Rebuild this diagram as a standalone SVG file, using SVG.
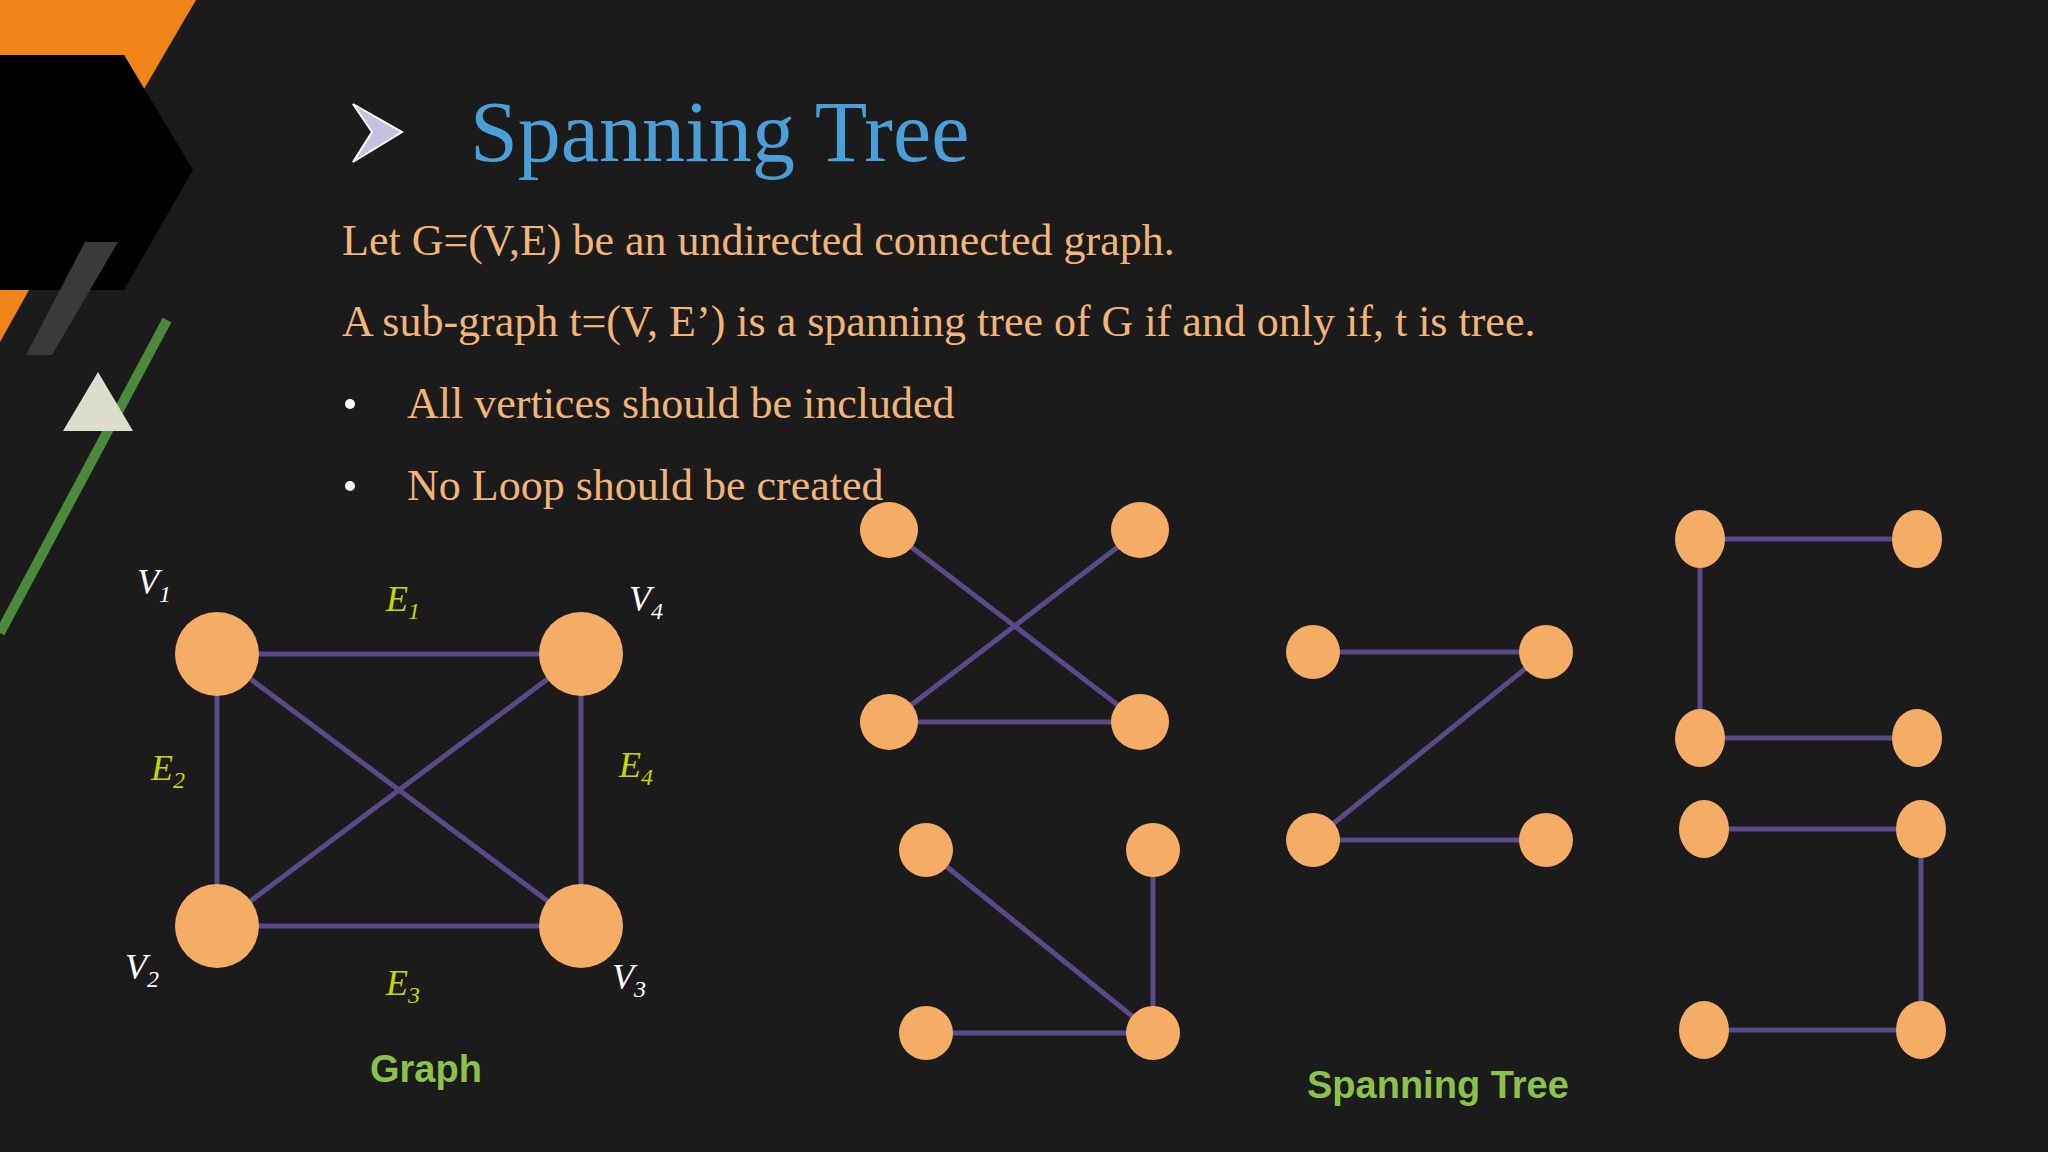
<svg xmlns="http://www.w3.org/2000/svg" width="2048" height="1152" viewBox="0 0 2048 1152">
<style>
.e{stroke:#5b4a8a;stroke-width:5;fill:none}
.n{fill:#f5ad66}
.t{font-family:"Liberation Serif",serif;fill:#f2b477;font-size:44px}
.v{font-family:"Liberation Serif",serif;font-style:italic;fill:#fff;font-size:36px}
.l{font-family:"Liberation Serif",serif;font-style:italic;fill:#c8d400;font-size:36px}
.s{font-size:24px}
.g{font-family:"Liberation Sans",sans-serif;font-weight:bold;fill:#8bc34a;font-size:38px}
</style>
<rect width="2048" height="1152" fill="#1b1b1b"/>
<g id="decor">
<polygon points="0,0 196,0 144,89 124,55 0,55" fill="#f08418"/>
<polygon points="0,55 124,55 193,170 124,290 0,290" fill="#000"/>
<polygon points="0,290 29,290 0,342" fill="#f08418"/>
<polygon points="85,242 118,242 52,355 26,355" fill="#3a3a3a"/>
<line x1="167" y1="320" x2="0" y2="633" stroke="#4a8a3a" stroke-width="10"/>
<polygon points="98,372 63,431 133,431" fill="#ddddcc"/>
</g>
<g id="title">
<polygon points="353,104 402,132 353,162 372,132" fill="#c8c0e0" stroke="#fff" stroke-width="2"/>
<text x="470" y="161" font-family="Liberation Serif,serif" font-size="86" fill="#4a9fd8">Spanning Tree</text>
<text class="t" x="342" y="255">Let G=(V,E) be an undirected connected graph.</text>
<text class="t" x="342" y="336">A sub-graph t=(V, E’)  is a spanning tree  of G if and only if, t is tree.</text>
<circle cx="350" cy="404" r="5" fill="#fff"/>
<text class="t" x="407" y="418">All vertices should be included</text>
<circle cx="350" cy="486" r="5" fill="#fff"/>
<text class="t" x="407" y="500">No Loop should be created</text>
</g>
<g id="connectors">
<line class="e" x1="217" y1="654" x2="581" y2="654"/>
<line class="e" x1="217" y1="654" x2="217" y2="926"/>
<line class="e" x1="581" y1="654" x2="581" y2="926"/>
<line class="e" x1="217" y1="926" x2="581" y2="926"/>
<line class="e" x1="217" y1="654" x2="581" y2="926"/>
<line class="e" x1="581" y1="654" x2="217" y2="926"/>
<line class="e" x1="889" y1="530" x2="1140" y2="722"/>
<line class="e" x1="1140" y1="530" x2="889" y2="722"/>
<line class="e" x1="889" y1="722" x2="1140" y2="722"/>
<line class="e" x1="926" y1="850" x2="1153" y2="1033"/>
<line class="e" x1="1153" y1="850" x2="1153" y2="1033"/>
<line class="e" x1="926" y1="1033" x2="1153" y2="1033"/>
<line class="e" x1="1313" y1="652" x2="1546" y2="652"/>
<line class="e" x1="1546" y1="652" x2="1313" y2="840"/>
<line class="e" x1="1313" y1="840" x2="1546" y2="840"/>
<line class="e" x1="1700" y1="539" x2="1917" y2="539"/>
<line class="e" x1="1700" y1="539" x2="1700" y2="738"/>
<line class="e" x1="1700" y1="738" x2="1917" y2="738"/>
<line class="e" x1="1704" y1="829" x2="1921" y2="829"/>
<line class="e" x1="1921" y1="829" x2="1921" y2="1030"/>
<line class="e" x1="1704" y1="1030" x2="1921" y2="1030"/>
</g>
<g id="graph">
<circle class="n" cx="217" cy="654" r="42"/><circle class="n" cx="581" cy="654" r="42"/>
<circle class="n" cx="217" cy="926" r="42"/><circle class="n" cx="581" cy="926" r="42"/>
<text class="v" x="137" y="594">V<tspan class="s" dy="8">1</tspan></text>
<text class="v" x="629" y="611">V<tspan class="s" dy="8">4</tspan></text>
<text class="v" x="125" y="979">V<tspan class="s" dy="8">2</tspan></text>
<text class="v" x="612" y="989">V<tspan class="s" dy="8">3</tspan></text>
<text class="l" x="386" y="611">E<tspan class="s" dy="8">1</tspan></text>
<text class="l" x="151" y="780">E<tspan class="s" dy="8">2</tspan></text>
<text class="l" x="619" y="777">E<tspan class="s" dy="8">4</tspan></text>
<text class="l" x="386" y="995">E<tspan class="s" dy="8">3</tspan></text>
<text class="g" x="370" y="1082">Graph</text>
</g>
<g id="trees">
<ellipse class="n" cx="889" cy="530" rx="29" ry="28"/><ellipse class="n" cx="1140" cy="530" rx="29" ry="28"/>
<ellipse class="n" cx="889" cy="722" rx="29" ry="28"/><ellipse class="n" cx="1140" cy="722" rx="29" ry="28"/>
<ellipse class="n" cx="926" cy="850" rx="27" ry="27"/><ellipse class="n" cx="1153" cy="850" rx="27" ry="27"/>
<ellipse class="n" cx="926" cy="1033" rx="27" ry="27"/><ellipse class="n" cx="1153" cy="1033" rx="27" ry="27"/>
<ellipse class="n" cx="1313" cy="652" rx="27" ry="27"/><ellipse class="n" cx="1546" cy="652" rx="27" ry="27"/>
<ellipse class="n" cx="1313" cy="840" rx="27" ry="27"/><ellipse class="n" cx="1546" cy="840" rx="27" ry="27"/>
<ellipse class="n" cx="1700" cy="539" rx="25" ry="29"/><ellipse class="n" cx="1917" cy="539" rx="25" ry="29"/>
<ellipse class="n" cx="1700" cy="738" rx="25" ry="29"/><ellipse class="n" cx="1917" cy="738" rx="25" ry="29"/>
<ellipse class="n" cx="1704" cy="829" rx="25" ry="29"/><ellipse class="n" cx="1921" cy="829" rx="25" ry="29"/>
<ellipse class="n" cx="1704" cy="1030" rx="25" ry="29"/><ellipse class="n" cx="1921" cy="1030" rx="25" ry="29"/>
<text class="g" x="1307" y="1098">Spanning Tree</text>
</g>
</svg>
